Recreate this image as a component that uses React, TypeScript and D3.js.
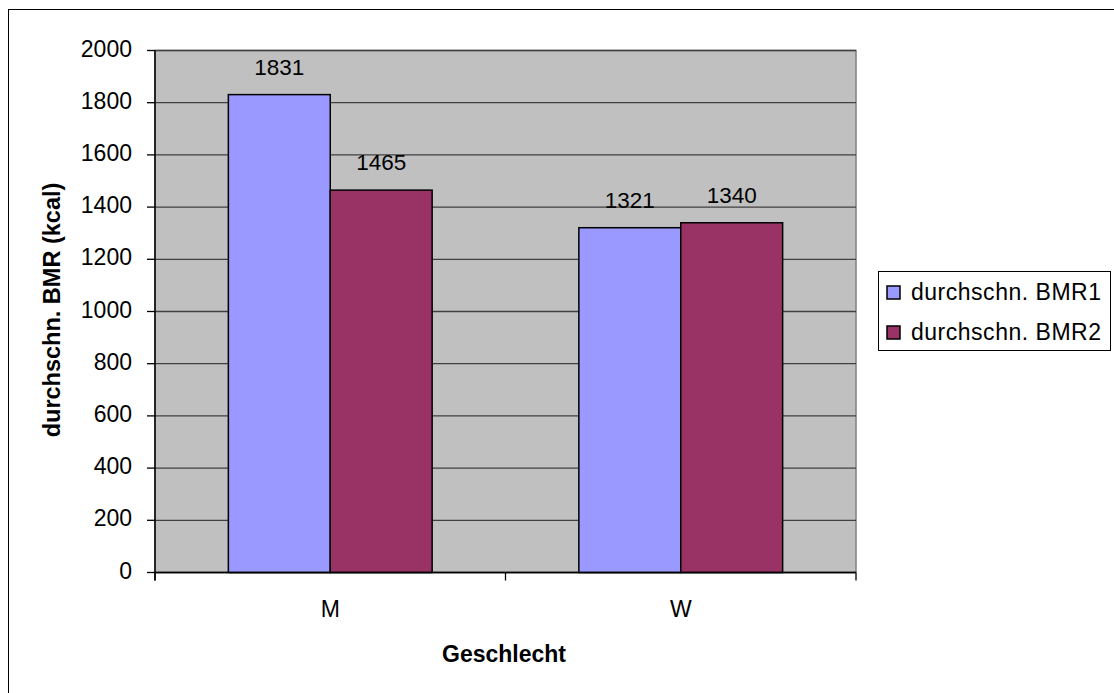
import React from "react";
import * as d3 from "d3";

const categories = ["M", "W"];
const seriesNames = ["durchschn. BMR1", "durchschn. BMR2"];
const bmr1 = [1831, 1321];
const bmr2 = [1465, 1340];
const yTicks = [0, 200, 400, 600, 800, 1000, 1200, 1400, 1600, 1800, 2000];
const colors = ["#9999FF", "#993366"];

const W = 1114;
const H = 693;
const plot = { left: 155, right: 856, top: 50.5, bottom: 572.5 };
const FONT = "'Liberation Sans', Arial, sans-serif";

export default function App() {
  const y = d3.scaleLinear().domain([0, 2000]).range([plot.bottom, plot.top]);
  const x0 = d3
    .scaleBand<string>()
    .domain(categories)
    .range([plot.left, plot.right])
    .paddingInner(0)
    .paddingOuter(0);
  const x1 = d3
    .scaleBand<string>()
    .domain(seriesNames)
    .range([0, x0.bandwidth()])
    .paddingOuter(0.72)
    .paddingInner(0);
  const series = [bmr1, bmr2];

  return (
    <svg
      width={W}
      height={H}
      style={{ position: "absolute", left: 0, top: 0, background: "#fff" }}
      fontFamily={FONT}
    >
      {/* outer frame */}
      <line x1={8.5} y1={9} x2={8.5} y2={H + 10} stroke="#000" strokeWidth={1} />
      <line x1={8} y1={9.5} x2={W + 10} y2={9.5} stroke="#000" strokeWidth={1} />

      {/* plot background */}
      <rect
        x={plot.left}
        y={plot.top}
        width={plot.right - plot.left}
        height={plot.bottom - plot.top}
        fill="#C0C0C0"
        stroke="#808080"
        strokeWidth={1.5}
      />

      {/* gridlines */}
      {yTicks.map((t) => (
        <line
          key={"g" + t}
          x1={plot.left}
          x2={plot.right}
          y1={y(t)}
          y2={y(t)}
          stroke="#404040"
          strokeWidth={1.3}
        />
      ))}

      {/* bars */}
      {categories.map((c, ci) =>
        series.map((s, si) => {
          const bx = (x0(c) ?? 0) + (x1(seriesNames[si]) ?? 0);
          const bw = x1.bandwidth();
          const top = y(s[ci]);
          return (
            <g key={c + si}>
              <rect
                x={bx}
                y={top}
                width={bw}
                height={plot.bottom - top}
                fill={colors[si]}
                stroke="#000"
                strokeWidth={1.5}
              />
              <text
                x={bx + bw / 2}
                y={top - 20}
                textAnchor="middle"
                fontSize={22.5}
                fill="#000"
              >
                {s[ci]}
              </text>
            </g>
          );
        })
      )}

      {/* y axis */}
      <line x1={plot.left} x2={plot.left} y1={plot.top} y2={plot.bottom + 8} stroke="#000" strokeWidth={1.5} />
      {yTicks.map((t) => (
        <g key={"t" + t}>
          <line x1={plot.left - 8} x2={plot.left} y1={y(t)} y2={y(t)} stroke="#000" strokeWidth={1.3} />
          <text x={132} y={y(t) + 6} textAnchor="end" fontSize={23} fill="#000">
            {t}
          </text>
        </g>
      ))}

      {/* x axis */}
      <line x1={plot.left} x2={plot.right} y1={plot.bottom} y2={plot.bottom} stroke="#000" strokeWidth={1.5} />
      {[...categories.map((c) => x0(c) ?? 0), plot.right].map((px, i) => (
        <line key={"xt" + i} x1={px} x2={px} y1={plot.bottom} y2={plot.bottom + 8} stroke="#000" strokeWidth={1.3} />
      ))}
      {categories.map((c) => (
        <text
          key={"xl" + c}
          x={(x0(c) ?? 0) + x0.bandwidth() / 2}
          y={617}
          textAnchor="middle"
          fontSize={23}
          fill="#000"
        >
          {c}
        </text>
      ))}

      {/* axis titles */}
      <text x={504} y={662} textAnchor="middle" fontSize={23} fontWeight="bold" fill="#000">
        Geschlecht
      </text>
      <text
        transform={`translate(60,310) rotate(-90)`}
        textAnchor="middle"
        fontSize={23.5}
        fontWeight="bold"
        fill="#000"
      >
        durchschn. BMR (kcal)
      </text>

      {/* legend */}
      <rect x={878.5} y={271.5} width={232} height={79} fill="#fff" stroke="#000" strokeWidth={1} />
      {seriesNames.map((n, i) => (
        <g key={"lg" + n}>
          <rect
            x={887}
            y={286 + i * 40}
            width={13}
            height={13}
            fill={colors[i]}
            stroke="#000"
            strokeWidth={1.5}
          />
          <text x={911} y={300 + i * 40} fontSize={23} fill="#000" textLength={190} lengthAdjust="spacing">
            {n}
          </text>
        </g>
      ))}
    </svg>
  );
}
